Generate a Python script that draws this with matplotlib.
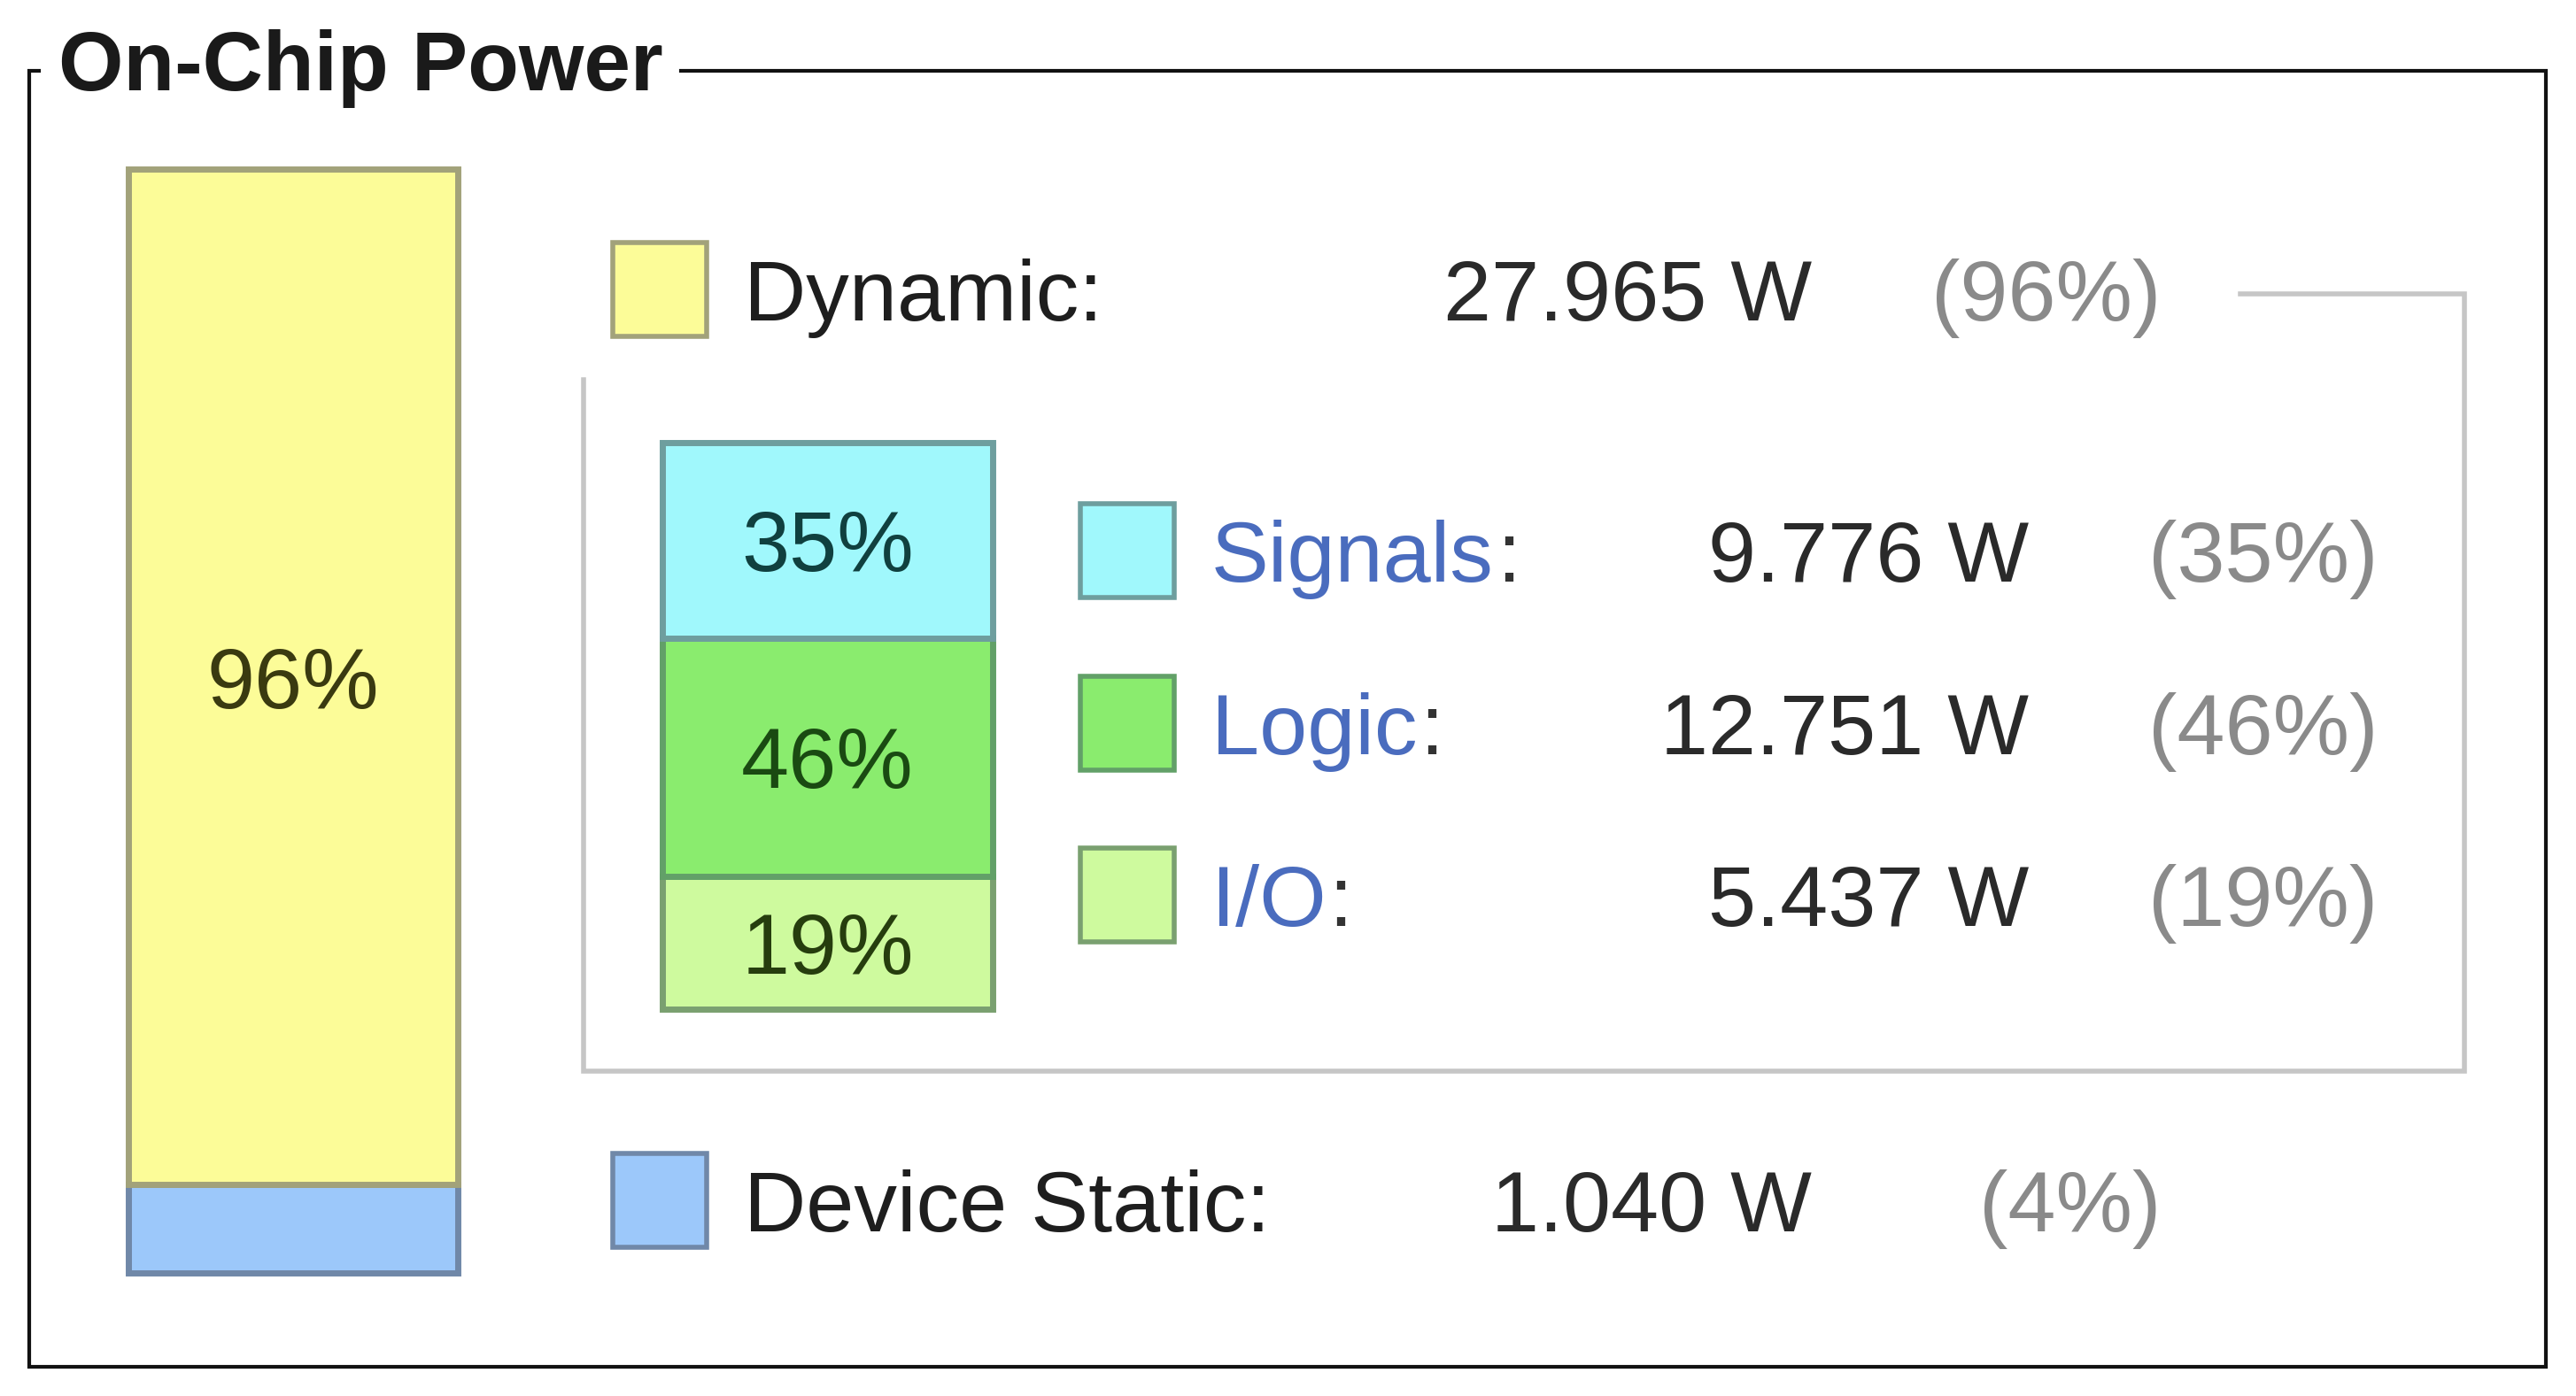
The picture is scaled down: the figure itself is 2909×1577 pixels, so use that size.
"""
On-Chip Power summary panel (Vivado style power report).
"""

import matplotlib.pyplot as plt

plt.rcParams['font.family'] = ['Liberation Sans', 'DejaVu Sans']

# top level split
outer_labels = ['Dynamic', 'Device Static']
outer_watts = [27.965, 1.040]
outer_pct = [96, 4]
outer_heights = [92, 8]          # segment heights as drawn in the left bar

# breakdown of the dynamic power
dyn_labels = ['Signals', 'Logic', 'I/O']
dyn_watts = [9.776, 12.751, 5.437]
dyn_pct = [35, 46, 19]
dyn_heights = [34.5, 42, 23.5]   # segment heights as drawn in the inner bar

outer_fill = ['#fcfc98', '#9cc8fa']
outer_edge = ['#a2a27a', '#7088a8']
outer_txt = ['#3a3a10', '#1e2e4e']

dyn_fill = ['#a0f8fc', '#8aec6e', '#cefa9e']
dyn_edge = ['#6e9e9e', '#62a068', '#7aa070']
dyn_txt = ['#10403f', '#1a4a12', '#263d0e']

W, H = 2909, 1577
FS = 70

fig = plt.figure(figsize=(W / 100, H / 100), dpi=100)
fig.patch.set_facecolor('white')

# overlay axes in pixel coordinates for frame, legend and text
ax = fig.add_axes([0, 0, 1, 1])
ax.set_xlim(0, W)
ax.set_ylim(H, 0)
ax.axis('off')


def bar_axes(x0, y0, x1, y1):
    a = fig.add_axes([x0 / W, 1 - y1 / H, (x1 - x0) / W, (y1 - y0) / H])
    a.set_xlim(-0.5, 0.5)
    a.set_ylim(0, 100)
    a.axis('off')
    return a


def stacked_bar(a, heights, fills, edges, labels, txtcols):
    # heights are given top to bottom, stack them bottom up
    bottom = 0
    for h, fc, ec, lab, tc in reversed(list(zip(heights, fills, edges, labels, txtcols))):
        a.bar(0, h, bottom=bottom, width=1, color=fc, edgecolor=ec,
              linewidth=5, clip_on=False)
        if lab:
            a.text(0, bottom + h / 2, lab, ha='center', va='center_baseline',
                   fontsize=FS, color=tc)
        bottom += h


# left bar: dynamic vs static
ax_out = bar_axes(145, 191, 517, 1438)
stacked_bar(ax_out, outer_heights, outer_fill, outer_edge,
            [f'{outer_pct[0]}%', ''], outer_txt)

# inner bar: dynamic breakdown
ax_dyn = bar_axes(748, 500, 1121, 1140)
stacked_bar(ax_dyn, dyn_heights, dyn_fill, dyn_edge,
            [f'{p}%' for p in dyn_pct], dyn_txt)

# outer frame with title
ax.plot([44, 33, 33, 2875, 2875, 769], [80, 80, 1544, 1544, 80, 80],
        color='#111111', lw=3, solid_joinstyle='miter')
ax.text(66, 102, 'On-Chip Power', fontsize=68, fontweight='bold',
        color='#1a1a1a', ha='left', va='baseline')

# bracket around the dynamic breakdown
ax.plot([2530, 2783, 2783, 659, 659], [332, 332, 1210, 1210, 429],
        color='#c6c6c6', lw=4, solid_joinstyle='miter')


def swatch(x, yc, fc, ec, size=106):
    ax.add_patch(plt.Rectangle((x, yc - size / 2), size, size,
                               facecolor=fc, edgecolor=ec, lw=4))


# outer legend rows
outer_rows_y = [327, 1356]
for name, w, p, yc, fc, ec in zip(outer_labels, outer_watts, outer_pct,
                                  outer_rows_y, outer_fill, outer_edge):
    swatch(692, yc, fc, ec)
    ax.text(840, yc, f'{name}:', fontsize=FS, color='#1e1e1e',
            ha='left', va='center_baseline')
    ax.text(2046, yc, f'{w:.3f} W', fontsize=FS, color='#2a2a2a',
            ha='right', va='center_baseline')
    ax.text(2440, yc, f'({p}%)', fontsize=FS, color='#8a8a8a',
            ha='right', va='center_baseline')

# dynamic breakdown rows
dyn_rows_y = [622, 817, 1011]
for name, w, p, yc, fc, ec in zip(dyn_labels, dyn_watts, dyn_pct,
                                  dyn_rows_y, dyn_fill, dyn_edge):
    swatch(1220, yc, fc, ec)
    t = ax.text(1368, yc, name, fontsize=FS, color='#4a6cbe',
                ha='left', va='center_baseline')
    ax.annotate(':', xy=(1, 0), xycoords=t, xytext=(2, 0),
                textcoords='offset points', fontsize=FS, color='#333333',
                ha='left', va='bottom')
    ax.text(2291, yc, f'{w:.3f} W', fontsize=FS, color='#2a2a2a',
            ha='right', va='center_baseline')
    ax.text(2685, yc, f'({p}%)', fontsize=FS, color='#8a8a8a',
            ha='right', va='center_baseline')

fig.savefig('out.png', dpi=100, facecolor='white')
